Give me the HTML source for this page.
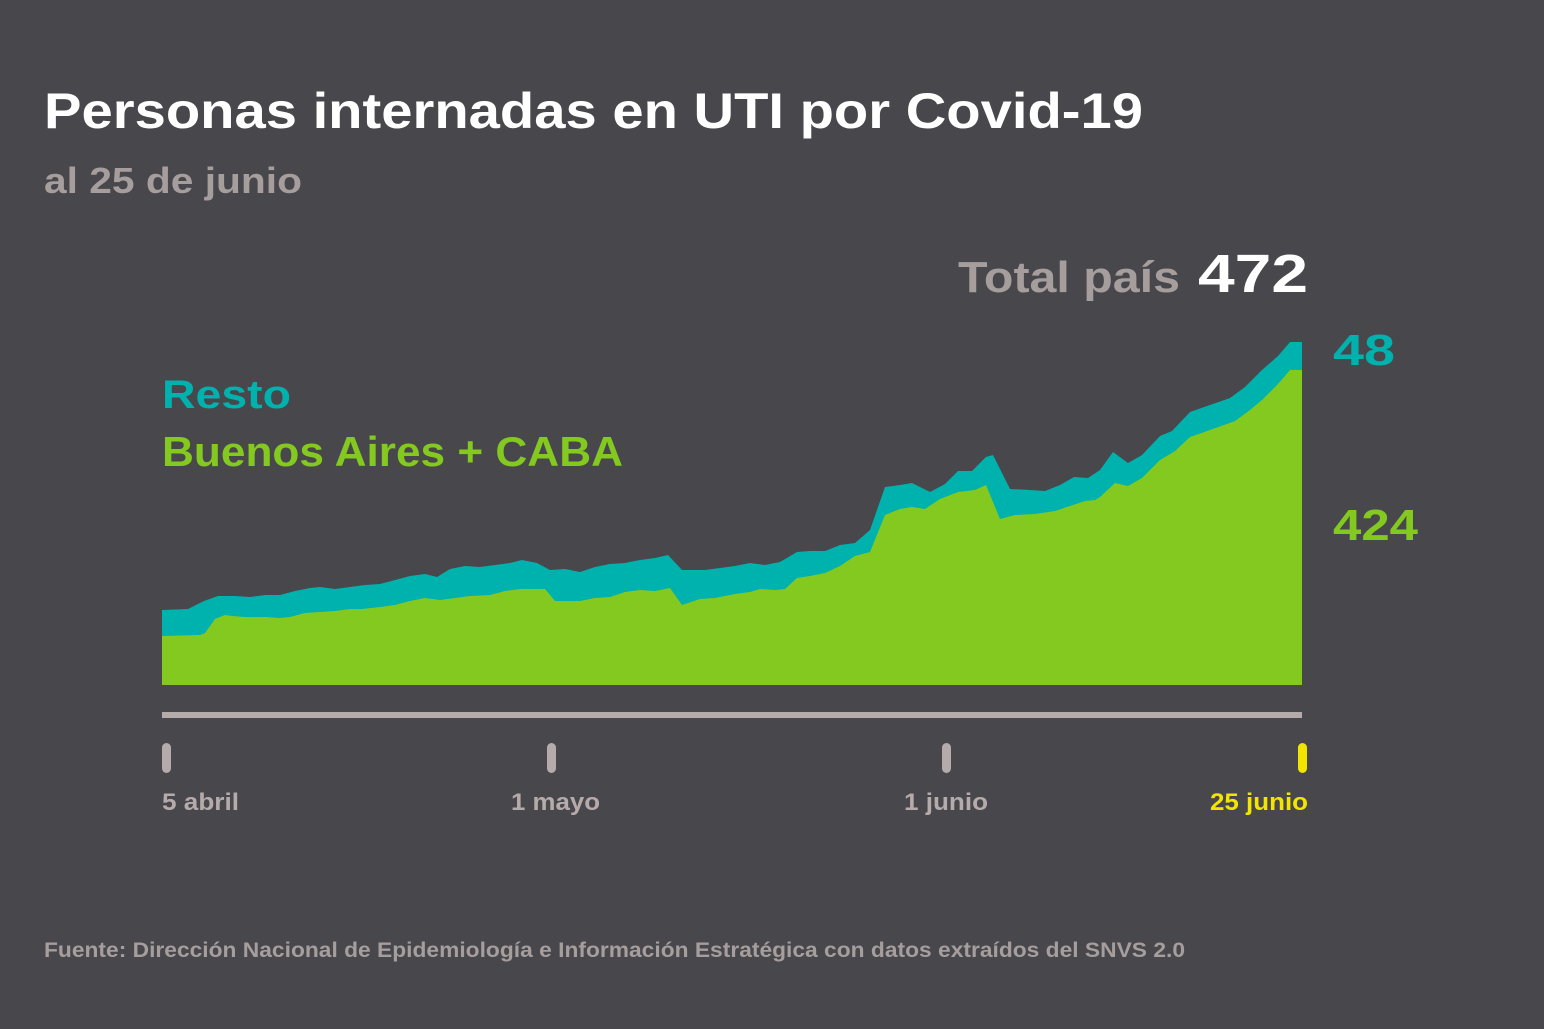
<!DOCTYPE html>
<html><head><meta charset="utf-8"><style>
html,body{margin:0;padding:0;background:#47474c;}
svg{display:block}
text{font-family:"Liberation Sans",sans-serif;font-weight:bold}
</style></head><body>
<svg width="1544" height="1029" viewBox="0 0 1544 1029">
<rect width="1544" height="1029" fill="#47474c"/>
<text x="44" y="128" font-size="50" fill="#ffffff" textLength="1099" lengthAdjust="spacingAndGlyphs">Personas internadas en UTI por Covid-19</text>
<text x="44" y="193" font-size="36" fill="#a69d9d" font-weight="normal" style="font-weight:600" textLength="258" lengthAdjust="spacingAndGlyphs">al 25 de junio</text>
<text x="958" y="292" font-size="44" fill="#a69d9d" textLength="222" lengthAdjust="spacingAndGlyphs">Total país</text>
<text x="1198" y="292" font-size="54" fill="#ffffff" textLength="110" lengthAdjust="spacingAndGlyphs">472</text>
<text x="1333" y="365" font-size="44" fill="#00b2ad" textLength="62" lengthAdjust="spacingAndGlyphs">48</text>
<text x="1333" y="540" font-size="44" fill="#84c920" textLength="85" lengthAdjust="spacingAndGlyphs">424</text>
<text x="162" y="408" font-size="40" fill="#00b2ad" textLength="129" lengthAdjust="spacingAndGlyphs">Resto</text>
<text x="162" y="466" font-size="42" fill="#84c920" textLength="461" lengthAdjust="spacingAndGlyphs">Buenos Aires + CABA</text>
<polygon fill="#00b2ad" points="162,685 162,610 188,609 204,601 218,596 235,596 250,597 265,595 280,595 295,591 310,588 320,587 335,589 350,587 365,585 380,584 395,580 410,576 425,574 437,577 450,569 465,566 480,567 495,565 510,563 522,560 537,563 550,570 565,569 580,572 595,567 610,564 625,563 640,560 655,558 668,555 682,570 705,570 720,568 735,566 750,563 765,565 780,562 797,552 810,551 825,551 840,545 855,543 870,530 885,487 900,485 912,483 930,492 945,484 958,471 972,471 986,457 993,455 1010,489 1030,490 1045,491 1060,485 1074,477 1088,478 1100,470 1113,452 1128,463 1142,455 1160,436 1172,431 1190,412 1210,405 1230,398 1245,387 1262,370 1278,356 1290,342 1302,342 1302,685"/>
<polygon fill="#84c920" points="162,685 162,636 200,635 205,633 215,619 225,615 232,616 245,617 265,617 280,618 290,617 305,613 320,612 335,611 350,609 362,609 380,607 395,605 410,601 425,598 440,600 455,598 470,596 490,595 505,591 520,589 535,589 545,589 555,601 570,601 580,601 595,598 610,597 625,592 640,590 655,591 670,588 682,605 700,599 715,598 735,594 750,592 760,589 775,590 785,589 797,578 810,576 825,573 840,566 855,556 870,552 885,515 900,509 912,507 925,509 940,499 958,492 975,490 986,485 1000,519 1015,515 1035,514 1055,511 1070,506 1085,501 1095,500 1100,497 1115,483 1128,486 1142,478 1160,460 1175,451 1190,437 1210,430 1235,421 1250,410 1262,400 1278,384 1290,370 1302,370 1302,685"/>
<rect x="162" y="712" width="1140" height="6" fill="#b5abab"/>
<rect x="162" y="743" width="9" height="30" rx="4.5" fill="#b5abab"/>
<rect x="547" y="743" width="9" height="30" rx="4.5" fill="#b5abab"/>
<rect x="942" y="743" width="9" height="30" rx="4.5" fill="#b5abab"/>
<rect x="1298" y="743" width="9" height="30" rx="4.5" fill="#f2e500"/>
<text x="162" y="810" font-size="24" fill="#b5abab" textLength="77" lengthAdjust="spacingAndGlyphs">5 abril</text>
<text x="511" y="810" font-size="24" fill="#b5abab" textLength="89" lengthAdjust="spacingAndGlyphs">1 mayo</text>
<text x="904" y="810" font-size="24" fill="#b5abab" textLength="84" lengthAdjust="spacingAndGlyphs">1 junio</text>
<text x="1210" y="810" font-size="24" fill="#f2e500" textLength="98" lengthAdjust="spacingAndGlyphs">25 junio</text>
<text x="44" y="957" font-size="21" fill="#a69d9d" textLength="1141" lengthAdjust="spacingAndGlyphs">Fuente: Dirección Nacional de Epidemiología e Información Estratégica con datos extraídos del SNVS 2.0</text>
</svg>
</body></html>
